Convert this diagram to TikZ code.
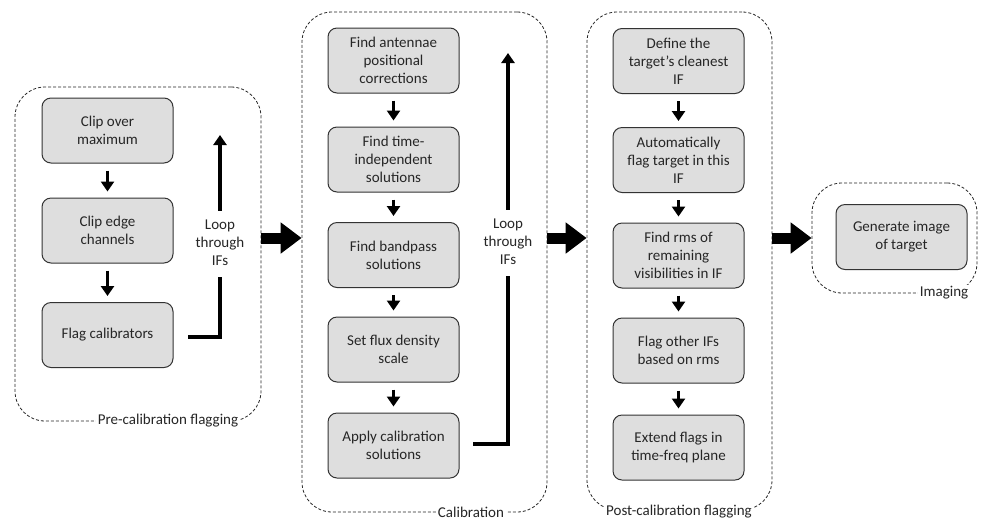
\documentclass[tikz,border=0pt]{standalone}
\usepackage{fontspec}
\setmainfont{Carlito}
\usetikzlibrary{arrows.meta}
\tikzset{
  stepbox/.style={draw=black!80, line width=1pt, fill=black!13, rounded corners=9pt,
    minimum width=131pt, minimum height=65pt, align=center, inner sep=2pt,
    text=black!85, font=\fontsize{15}{18}\selectfont},
  groupbox/.style={draw=black!85, dashed, dash pattern=on 3pt off 2pt, line width=0.8pt, rounded corners=30pt},
  grouplabel/.style={fill=white, inner sep=2pt, text=black!85, font=\fontsize{15}{18}\selectfont},
  looplabel/.style={align=center, text=black!85, font=\fontsize{15}{18}\selectfont},
  smallarrow/.style={line width=3.2pt, -{Triangle[length=10pt,width=13pt]}},
  looparrow/.style={line width=3.2pt},
  bigarrow/.style={line width=11pt, -{Triangle[length=21pt,width=30pt]}}
}
\begin{document}
\begin{tikzpicture}[x=1pt,y=-1pt]
\useasboundingbox (0,0) rectangle (981,523);
% groups
\node[groupbox, minimum width=246pt, minimum height=334pt] (g1) at (138,254) {};
\node[groupbox, minimum width=245pt, minimum height=500pt] (g2) at (424.5,262) {};
\node[groupbox, minimum width=185pt, minimum height=498pt] (g3) at (679.5,261) {};
\node[groupbox, minimum width=165pt, minimum height=110pt] (g4) at (894.5,238) {};
\node[grouplabel] (l1) at (168,421) {Pre-calibration flagging};
\node[grouplabel] (l2) at (471,512) {Calibration};
\node[grouplabel] (l3) at (679,512) {Post-calibration flagging};
\node[grouplabel] (l4) at (944,293) {Imaging};
% group 1
\node[stepbox] (a1) at (107.5,130.5) {Clip over\\maximum};
\node[stepbox] (a2) at (107.5,230.5) {Clip edge\\channels};
\node[stepbox] (a3) at (107.5,335) {Flag calibrators};
\draw[smallarrow] ([yshift=-7pt]a1.south) -- ([yshift=6pt]a2.north);
\draw[smallarrow] ([yshift=-7pt]a2.south) -- ([yshift=6pt]a3.north);
\node[looplabel] (lp1) at (220,243) {Loop\\through\\IFs};
\coordinate (c1s) at (188,337);
\coordinate (c1t) at (220,135);
\draw[looparrow] (c1s) -- (c1s -| lp1) -- ([yshift=-8pt]lp1.south);
\draw[smallarrow] ([yshift=6pt]lp1.north) -- (c1t);
% group 2
\node[stepbox] (b1) at (393.5,60.5) {Find antennae\\positional\\corrections};
\node[stepbox] (b2) at (393.5,159.5) {Find time-\\independent\\solutions};
\node[stepbox] (b3) at (393.5,255) {Find bandpass\\solutions};
\node[stepbox] (b4) at (393.5,349.5) {Set flux density\\scale};
\node[stepbox] (b5) at (393.5,445.5) {Apply calibration\\solutions};
\foreach \p/\q in {b1/b2,b2/b3,b3/b4,b4/b5}
  \draw[smallarrow] ([yshift=-7pt]\p.south) -- ([yshift=6pt]\q.north);
\node[looplabel] (lp2) at (508,242) {Loop\\through\\IFs};
\coordinate (c2s) at (473,444);
\coordinate (c2t) at (508,53);
\draw[looparrow] (c2s) -- (c2s -| lp2) -- ([yshift=-8pt]lp2.south);
\draw[smallarrow] ([yshift=6pt]lp2.north) -- (c2t);
% group 3
\node[stepbox] (d1) at (678.5,61) {Define the\\target’s cleanest\\IF};
\node[stepbox] (d2) at (678.5,160) {Automatically\\flag target in this\\IF};
\node[stepbox] (d3) at (678.5,255.5) {Find rms of\\remaining\\visibilities in IF};
\node[stepbox] (d4) at (678.5,350.5) {Flag other IFs\\based on rms};
\node[stepbox] (d5) at (678.5,447.5) {Extend flags in\\time-freq plane};
\foreach \p/\q in {d1/d2,d2/d3,d3/d4,d4/d5}
  \draw[smallarrow] ([yshift=-7pt]\p.south) -- ([yshift=6pt]\q.north);
% group 4
\node[stepbox] (e1) at (901.5,237) {Generate image\\of target};
% big arrows
\draw[bigarrow] (g1.east |- g4.center) -- (g2.west |- g4.center);
\draw[bigarrow] (g2.east |- g4.center) -- (g3.west |- g4.center);
\draw[bigarrow] (g3.east |- g4.center) -- (g4.west);
\end{tikzpicture}
\end{document}
